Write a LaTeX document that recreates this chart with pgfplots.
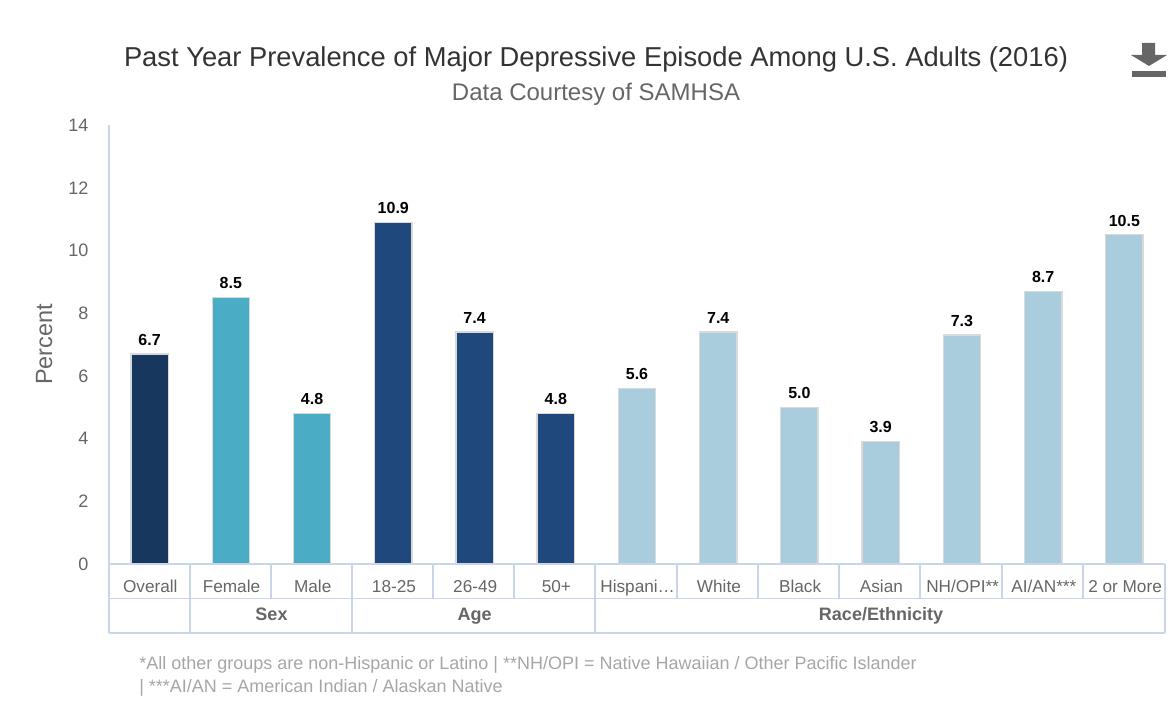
\documentclass[border=0pt]{standalone}
\usepackage{pgfplots}
\pgfplotsset{compat=1.18}
\usepackage{fontspec}
\setmainfont{Liberation Sans}
\definecolor{grid}{HTML}{C9D5EA}
\definecolor{txt}{HTML}{666666}
\definecolor{note}{HTML}{A6A6A6}
\definecolor{overall}{HTML}{17375E}
\definecolor{sexc}{HTML}{4BACC6}
\definecolor{agec}{HTML}{1F497D}
\definecolor{race}{HTML}{A9CDDC}
\begin{document}
\begin{tikzpicture}[x=0.75pt,y=-0.75pt]
\path[use as bounding box] (0,0) rectangle (1176,717);
\begin{axis}[
  at={(81.75pt,-423pt)}, anchor=south west,
  scale only axis,
  width=792pt, height=329.25pt,
  xmin=-0.5, xmax=12.5,
  ymin=0, ymax=14,
  ytick={0,2,...,14},
  xtick={0,...,12},
  xticklabels={Overall,Female,Male,18-25,26-49,50+,Hispani…,White,Black,Asian,NH/OPI**,AI/AN***,2 or More},
  axis x line=bottom,
  axis y line=left,
  axis line style={draw=grid,line width=1pt,-},
  major tick length=0pt,
  /pgf/number format/assume math mode=true,
  yticklabel style={text=txt,font=\fontsize{13.5}{16}\selectfont,xshift=-12pt},
  xticklabel style={text=txt,font=\fontsize{12.9}{15}\selectfont,yshift=-21pt,xshift=0.5pt,anchor=base},
  ylabel={Percent},
  ylabel style={text=txt,font=\fontsize{17.6}{20}\selectfont,yshift=5pt},
  ybar, bar width=28pt, bar shift=0pt,
  nodes near coords,
  nodes near coords style={text=black,yshift=2.6pt,font=\bfseries\fontsize{12}{14}\selectfont,/pgf/number format/fixed,/pgf/number format/fixed zerofill,/pgf/number format/precision=1,/pgf/number format/assume math mode=true},
  clip=false,
]
\addplot[fill=overall,draw=black!15,line width=1pt] coordinates {(0,6.7)};
\addplot[fill=sexc,draw=black!15,line width=1pt] coordinates {(1,8.5) (2,4.8)};
\addplot[fill=agec,draw=black!15,line width=1pt] coordinates {(3,10.9) (4,7.4) (5,4.8)};
\addplot[fill=race,draw=black!15,line width=1pt] coordinates {(6,5.6) (7,7.4) (8,5.0) (9,3.9) (10,7.3) (11,8.7) (12,10.5)};
\end{axis}
% category table under the axis
\draw[grid,line width=1pt] (109,564) -- (1165,564) (109,598.5) -- (1165,598.5) (109,633) -- (1165,633);
\foreach \v in {109,190,271,352,433,514,595,677,758,839,920,1002,1083,1165}
  \draw[grid,line width=1pt] (\v,564) -- (\v,598.5);
\foreach \v in {109,190,352,595,1165}
  \draw[grid,line width=1pt] (\v,598.5) -- (\v,633);
\node[text=txt,anchor=base,font=\bfseries\fontsize{13.5}{16}\selectfont] at (271.5,620) {Sex};
\node[text=txt,anchor=base,font=\bfseries\fontsize{13.5}{16}\selectfont] at (474.5,620) {Age};
\node[text=txt,anchor=base,font=\bfseries\fontsize{13.5}{16}\selectfont] at (881,620) {Race/Ethnicity};
% titles
\node[text=black!80,font=\fontsize{20.5}{24}\selectfont] at (596,59.5) {Past Year Prevalence of Major Depressive Episode Among U.S. Adults (2016)};
\node[text=txt,font=\fontsize{18}{21}\selectfont] at (596,94) {Data Courtesy of SAMHSA};
% footnote
\node[text=note,inner sep=0pt,anchor=west,font=\fontsize{13.5}{16}\selectfont] at (139,665) {*All other groups are non-Hispanic or Latino | **NH/OPI = Native Hawaiian / Other Pacific Islander};
\node[text=note,inner sep=0pt,anchor=west,font=\fontsize{13.5}{16}\selectfont] at (139,688) {| ***AI/AN = American Indian / Alaskan Native};
% download icon
\fill[txt] (1142,43) -- (1155,43) -- (1155,55) -- (1167,55) -- (1149,66) -- (1131,55) -- (1142,55) -- cycle;
\fill[txt] (1132,71) rectangle (1166,77);
\end{tikzpicture}
\end{document}
